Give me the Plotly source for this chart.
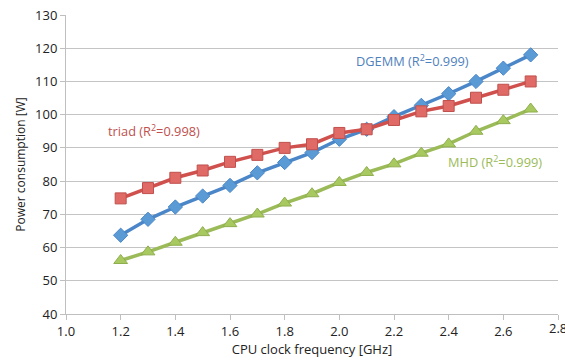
import plotly.graph_objects as go

freq = [1.2, 1.3, 1.4, 1.5, 1.6, 1.7, 1.8, 1.9, 2.0, 2.1, 2.2, 2.3, 2.4, 2.5, 2.6, 2.7]
dgemm = [63.7, 68.5, 72.2, 75.5, 78.7, 82.5, 85.6, 88.6, 92.6, 95.6, 99.4, 102.8, 106.3, 110.0, 114.0, 118.0]
triad = [74.8, 77.9, 81.0, 83.2, 85.8, 87.9, 90.0, 91.1, 94.5, 95.6, 98.4, 101.0, 102.6, 105.1, 107.5, 110.0]
mhd = [56.1, 58.7, 61.6, 64.5, 67.2, 70.1, 73.4, 76.2, 79.6, 82.6, 85.2, 88.4, 91.2, 95.0, 98.2, 101.7]

x_ticks = [1.0, 1.2, 1.4, 1.6, 1.8, 2.0, 2.2, 2.4, 2.6]
x_last = 2.8
y_ticks = [40, 50, 60, 70, 80, 90, 100, 110, 120, 130]

fig = go.Figure()
fig.add_trace(go.Scatter(x=freq, y=mhd, mode="lines+markers",
                         line=dict(color="#9BBB59", width=3.5),
                         marker=dict(symbol="triangle-up", size=12, color="#A8C960",
                                     line=dict(color="#8FAE4E", width=1))))
fig.add_trace(go.Scatter(x=freq, y=dgemm, mode="lines+markers",
                         line=dict(color="#4A86C8", width=3.5),
                         marker=dict(symbol="diamond", size=11, color="#5B9BD5",
                                     line=dict(color="#4A86C8", width=1))))
fig.add_trace(go.Scatter(x=freq, y=triad, mode="lines+markers",
                         line=dict(color="#D0504D", width=3.5),
                         marker=dict(symbol="square", size=11, color="#E06A66",
                                     line=dict(color="#C0504D", width=1))))

font = "Open Sans, Liberation Sans, sans-serif"
fig.add_annotation(x=2.055, y=116.2, text="DGEMM (R<sup>2</sup>=0.999)", showarrow=False,
                   xanchor="left", font=dict(color="#4F81BD", size=12.8, family=font))
fig.add_annotation(x=1.148, y=95.1, text="triad (R<sup>2</sup>=0.998)", showarrow=False,
                   xanchor="left", font=dict(color="#C0504D", size=12.8, family=font))
fig.add_annotation(x=2.39, y=85.8, text="MHD (R<sup>2</sup>=0.999)", showarrow=False,
                   xanchor="left", font=dict(color="#9BBB59", size=12.8, family=font))
# last x tick label (partly cut at the right edge, as in the original)
fig.add_annotation(x=x_last, xref="x", y=0, yref="paper", yshift=-3, text=f"{x_last:.1f}",
                   showarrow=False, xanchor="center", yanchor="top",
                   font=dict(color="#222222", size=13, family=font))

fig.update_layout(
    width=565, height=363,
    margin=dict(l=66, r=7, t=15, b=49),
    paper_bgcolor="white", plot_bgcolor="white",
    showlegend=False,
    font=dict(family=font, color="#222222", size=13),
    xaxis=dict(range=[1.0, 2.8], tickvals=x_ticks + [x_last],
               ticktext=[f"{v:.1f}" for v in x_ticks] + [""],
               showgrid=False, zeroline=False, showline=True, linecolor="#BFBFBF",
               ticks="outside", ticklen=5, tickcolor="#BFBFBF",
               title=dict(text="CPU clock frequency [GHz]", font=dict(size=13), standoff=3)),
    yaxis=dict(range=[40, 130], tickvals=y_ticks, showgrid=True, gridcolor="#C4C4C4",
               zeroline=False, showline=True, linecolor="#BFBFBF",
               ticks="outside", ticklen=5, tickcolor="#BFBFBF",
               title=dict(text="Power consumption [W]", font=dict(size=12), standoff=6)),
)

fig.write_html("out.html")
